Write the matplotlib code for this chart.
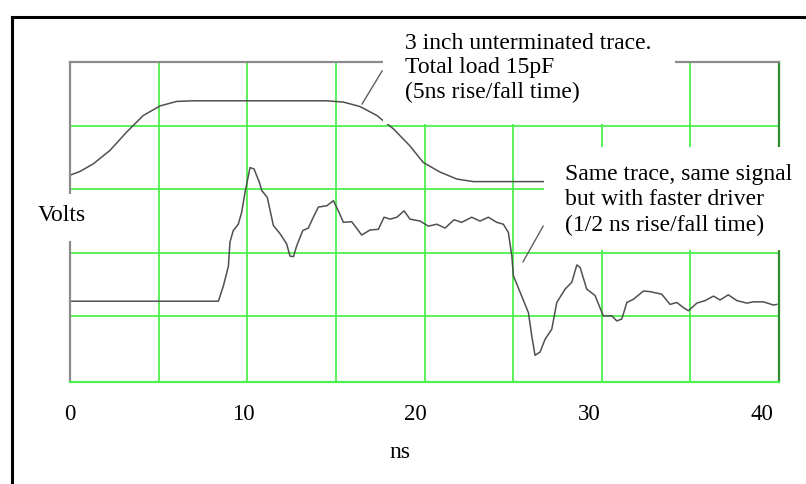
import matplotlib
matplotlib.use("Agg")
import matplotlib.pyplot as plt
from matplotlib.lines import Line2D
from matplotlib.patches import Rectangle
import numpy as np

# slow driver (5ns rise/fall)
slow_t = [0, 0.58, 1.35, 2.31, 3.28, 4.24, 5.21, 6.17, 7.13, 14.85, 15.81, 16.77,
          17.74, 18.70, 19.66, 20.43, 21.40, 22.37, 23.33, 41.0]
slow_v = [3.22, 3.28, 3.40, 3.61, 3.90, 4.16, 4.31, 4.38, 4.39, 4.39, 4.37, 4.30,
          4.16, 3.95, 3.68, 3.42, 3.27, 3.16, 3.12, 3.12]

# fast driver (1/2 ns rise/fall)
fast_t = [0, 8.58, 8.87, 9.16, 9.25, 9.44, 9.73, 9.93, 10.12, 10.41,
          10.64, 10.95, 11.09, 11.41, 11.76, 12.15, 12.53, 12.72, 12.92, 13.11,
          13.46, 13.78, 14.07, 14.36, 14.85, 15.23, 15.52, 15.81, 16.29, 16.87,
          17.35, 17.83, 18.16, 18.51, 18.90, 19.32, 19.66, 20.24, 20.72, 21.21,
          21.69, 22.21, 22.65, 23.23, 23.71, 24.19, 24.68, 25.06, 25.35, 25.55,
          25.64, 26.03, 26.51, 26.70, 26.89, 27.18, 27.47, 27.86, 28.15, 28.63,
          29.02, 29.31, 29.50, 29.88, 30.36, 30.84, 31.33, 31.62, 31.91, 32.20,
          32.58, 33.16, 33.55, 34.22, 34.70, 35.09, 35.47, 35.76, 36.25, 36.73,
          37.21, 37.59, 38.07, 38.56, 39.14, 39.52, 40.10, 40.68, 40.87]
fast_v = [1.24, 1.24, 1.48, 1.79, 2.17, 2.35, 2.45, 2.64, 2.95, 3.34,
          3.32, 3.11, 2.98, 2.87, 2.43, 2.30, 2.14, 1.95, 1.94, 2.11,
          2.35, 2.39, 2.56, 2.72, 2.74, 2.82, 2.66, 2.48, 2.49, 2.28,
          2.36, 2.37, 2.56, 2.53, 2.56, 2.66, 2.53, 2.50, 2.42, 2.45,
          2.39, 2.52, 2.48, 2.56, 2.50, 2.56, 2.48, 2.45, 2.32, 1.95,
          1.64, 1.38, 1.06, 0.70, 0.39, 0.44, 0.64, 0.80, 1.22, 1.43,
          1.54, 1.81, 1.77, 1.43, 1.33, 1.01, 1.01, 0.93, 0.96, 1.22,
          1.27, 1.40, 1.39, 1.35, 1.19, 1.22, 1.14, 1.09, 1.21, 1.25,
          1.32, 1.26, 1.34, 1.25, 1.21, 1.23, 1.23, 1.18, 1.19]

x_ticks = [0, 10, 20, 30, 40]
x_tick_labels = ["0", "10", "20", "30", "40"]

note_slow = "3 inch unterminated trace.\nTotal load 15pF\n(5ns rise/fall time)"
note_fast = "Same trace, same signal\nbut with faster driver\n(1/2 ns rise/fall time)"

W, H = 806, 485
plt.rcParams["font.family"] = ["Liberation Serif", "DejaVu Serif"]

fig = plt.figure(figsize=(W / 100, H / 100), dpi=100)
fig.patch.set_facecolor("white")


def fx(px):
    return px / W


def fy(py):
    return 1 - py / H


ax = fig.add_axes([fx(70), fy(383), (779 - 70) / W, (383 - 63) / H])
ax.set_xlim(0, 41)
ax.set_ylim(-0.03, 5.0)

grid_green = "#4cf04c"
ax.set_xticks(np.linspace(0, 41, 9)[1:-1], minor=True)
ax.set_yticks([1, 2, 3, 4], minor=True)
ax.set_yticks([])
ax.set_xticks(x_ticks)
ax.set_xticklabels(x_tick_labels, fontsize=16.5)
ax.tick_params(axis="x", which="both", length=0, pad=15)
ax.tick_params(axis="y", which="both", length=0)
ax.grid(which="minor", color=grid_green, lw=1.3)
ax.grid(which="major", visible=False)

ax.spines["top"].set_color("#8c8c8c")
ax.spines["left"].set_color("#8c8c8c")
ax.spines["bottom"].set_color(grid_green)
ax.spines["right"].set_color("#2f8a2f")
for s in ax.spines.values():
    s.set_linewidth(1.6)

ax.plot(slow_t, slow_v, color="#505050", lw=1.1)
ax.plot(fast_t, fast_v, color="#505050", lw=1.1)

# leader lines from the notes to the traces
ax.plot([18.05, 16.89], [4.86, 4.34], color="#606060", lw=1.0, clip_on=False)
ax.plot([27.36, 26.2], [2.42, 1.86], color="#606060", lw=1.0, clip_on=False)

ax.set_xlabel("ns", fontsize=17)
ax.xaxis.set_label_coords((400 - 70) / 709, -0.185)

# white note boxes laid over the plot
for x0, y0, x1, y1 in [(383, 22, 675, 125), (544, 148, 806, 251), (30, 195, 100, 242)]:
    fig.add_artist(Rectangle((fx(x0), fy(y1)), (x1 - x0) / W, (y1 - y0) / H,
                             transform=fig.transFigure, facecolor="white",
                             edgecolor="none", zorder=2))

fig.text(fx(405), fy(68), note_slow, fontsize=17, va="center", ha="left",
         linespacing=1.2, zorder=3)
fig.text(fx(565), fy(200), note_fast, fontsize=17, va="center", ha="left",
         linespacing=1.3, zorder=3)
fig.text(fx(62), fy(216), "Volts", fontsize=17, va="center", ha="center", zorder=3)

# outer frame
fig.add_artist(Line2D([fx(12), fx(12)], [fy(18), 0], transform=fig.transFigure,
                      color="black", lw=2.2, zorder=4))
fig.add_artist(Line2D([fx(12), 1], [fy(18), fy(18)], transform=fig.transFigure,
                      color="black", lw=2.2, zorder=4))

fig.savefig("out.png", dpi=100, facecolor="white")
